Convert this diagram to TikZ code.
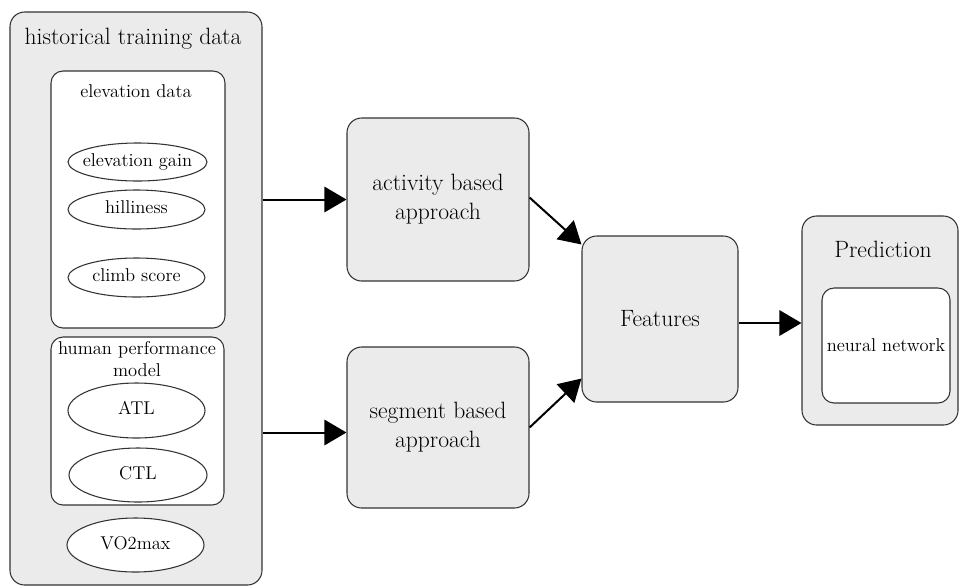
\documentclass[tikz,border=0pt]{standalone}
\usetikzlibrary{arrows.meta,calc,shapes.geometric}
\definecolor{boxfill}{HTML}{EBEBEB}
\definecolor{boxdraw}{HTML}{333333}
\tikzset{
  grp/.style={draw=boxdraw,fill=boxfill,line width=0.8pt,rounded corners=11pt,inner sep=0pt},
  sub/.style={draw=boxdraw,fill=white,line width=0.8pt,rounded corners=9pt,inner sep=0pt},
  oval/.style={draw=boxdraw,fill=white,line width=0.8pt,ellipse,inner sep=0pt,outer sep=0pt},
  bigtxt/.style={font=\fontsize{17.7}{21.75}\selectfont,align=center},
  smalltxt/.style={font=\fontsize{13.9}{16.5}\selectfont,align=center},
  conn/.style={line width=1.5pt,-{Triangle[length=16.5pt,width=19pt]}}
}
\newcommand{\zw}[1]{\makebox[0pt]{\strut#1}}
\begin{document}
\begin{tikzpicture}[x=0.75pt,y=-0.75pt]
\useasboundingbox (0,0) rectangle (960,587);
% left group
\node[grp,minimum width=189pt,minimum height=429.75pt] (main) at (136,298.5) {};
\node[bigtxt] (maint) at (133,39) {historical training data};
\node[sub,minimum width=130.5pt,minimum height=192.75pt] (elev) at (138,199.5) {};
\node[smalltxt] (elevt) at (136,91) {elevation data};
\node[oval,minimum width=104.25pt,minimum height=28.5pt,smalltxt] (eg) at (137.5,162) {\zw{elevation gain}};
\node[oval,minimum width=102.75pt,minimum height=29.25pt,smalltxt] (hill) at (136.5,209.5) {\zw{hilliness}};
\node[oval,minimum width=102.75pt,minimum height=29.25pt,smalltxt] (climb) at (136.5,277.5) {\zw{climb score}};
\node[sub,minimum width=129.75pt,minimum height=126pt] (hpm) at (137.5,421) {};
\node[smalltxt] (hpmt) at (137,359) {human performance\\model};
\node[oval,minimum width=102.75pt,minimum height=41.25pt,smalltxt] (atl) at (136.5,410.5) {\zw{ATL}};
\node[oval,minimum width=103.5pt,minimum height=40.5pt,smalltxt] (ctl) at (138,475) {\zw{CTL}};
\node[oval,minimum width=102.75pt,minimum height=40.5pt,smalltxt] (vo) at (135.5,545) {\zw{VO2max}};
% approaches
\node[grp,minimum width=136.5pt,minimum height=122.25pt,bigtxt] (act) at (438,199.5) {activity based\\approach};
\node[grp,minimum width=136.5pt,minimum height=120.75pt,bigtxt] (seg) at (438,427.5) {segment based\\approach};
% features
\node[grp,minimum width=117pt,minimum height=124.5pt,bigtxt] (feat) at (660,319) {Features};
% prediction
\node[grp,minimum width=117pt,minimum height=156.75pt] (pred) at (880,320.5) {};
\node[bigtxt] (predt) at (883,249) {Prediction};
\node[sub,minimum width=96pt,minimum height=86.25pt,smalltxt] (nn) at (886,345.5) {neural network};
% connectors
\draw[conn] (main.east |- act.west) -- (act.west);
\draw[conn] ($(main.east |- seg.west)+(0,5)$) -- ($(seg.west)+(0,5)$);
\draw[conn] ($(act.east)+(0,-2)$) -- ($(feat.north west)+(0,9)$);
\draw[conn] (seg.east) -- ($(feat.south west)+(0,-24)$);
\draw[conn] ($(feat.east)+(0,4)$) -- ($(feat.east -| pred.west)+(0,4)$);
\end{tikzpicture}
\end{document}
